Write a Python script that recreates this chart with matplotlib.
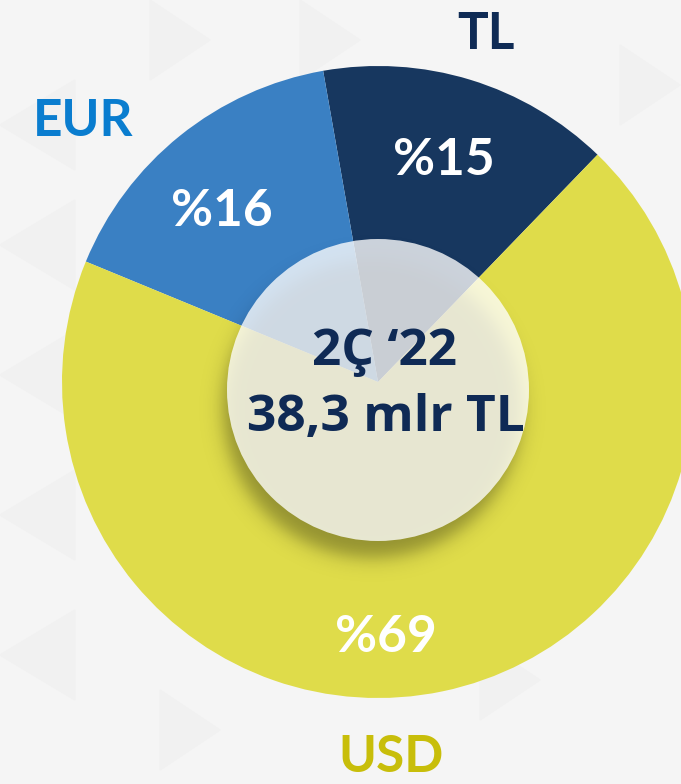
import numpy as np
from matplotlib import pyplot as plt
from matplotlib.patches import Circle, Polygon

# data
labels = ['TL', 'EUR', 'USD']
shares = [15, 16, 69]
slice_colors = ['#17375f', '#3a80c3', '#dfdc4a']
label_colors = ['#0f2b55', '#0a7dcf', '#c8be0a']
center_lines = ['2Ç \u201822', '38,3 mlr TL']

W, H = 681, 784
fig = plt.figure(figsize=(W / 100, H / 100), dpi=100, facecolor='#f5f5f5')
ax = fig.add_axes([0, 0, 1, 1])
ax.set_xlim(0, W)
ax.set_ylim(0, H)
ax.set_aspect('equal')
ax.axis('off')

# faint background triangles
tri_col = '#f1f1f1'
for y0 in [80, 200, 330, 470, 610]:
    ax.add_patch(Polygon([[0, H - y0 - 45], [75, H - y0], [75, H - y0 - 90]], closed=True,
                         color=tri_col, zorder=0))
for (x0, y0) in [(620, 45), (150, 0), (300, 0), (160, 690), (480, 640)]:
    ax.add_patch(Polygon([[x0, H - y0], [x0, H - y0 - 80], [x0 + 60, H - y0 - 40]], closed=True,
                         color=tri_col, zorder=0))

# pie
cx, cy, R = 378, H - 382, 316
wedges, _ = ax.pie(shares, colors=slice_colors, startangle=46, counterclock=True,
                   center=(cx, cy), radius=R, frame=True,
                   wedgeprops=dict(linewidth=0))
for w in wedges:
    w.set_zorder(1)
ax.set_xlim(0, W)
ax.set_ylim(0, H)
ax.axis('off')

# shadow under the inner circle
ix, iy, ir = 378, H - 390, 151
yy, xx = np.mgrid[0:H, 0:W]
d = np.hypot(xx - (ix - 6), (H - yy) - (iy - 18))
alpha = 0.34 * 0.5 * (1 - np.tanh((d - ir + 2) / 11.0))
shadow = np.zeros((H, W, 4))
shadow[..., 3] = alpha
ax.imshow(shadow, extent=[0, W, 0, H], origin='upper', zorder=2, interpolation='bilinear')

ax.add_patch(Circle((ix, iy), ir, facecolor='white', alpha=0.78, edgecolor='none', zorder=3))

ax.text(385, H - 352, center_lines[0], ha='center', va='center', fontsize=37,
        fontfamily='Open Sans', fontweight='bold', color='#0f2a55', zorder=4)
ax.text(386, H - 418, center_lines[1], ha='center', va='center', fontsize=37,
        fontfamily='Open Sans', fontweight='bold', color='#0f2a55', zorder=4)

# percentage labels inside slices
pct_pos = [(444, 160), (222, 211), (386, 637)]
for s, (px, py) in zip(shares, pct_pos):
    ax.text(px, H - py, '%' + str(s), ha='center', va='center', fontsize=37,
            fontfamily='Lato', fontweight='bold', color='white', zorder=4)

# outer labels
out_pos = [(486, 34), (83, 121), (391, 757)]
for lab, c, (px, py) in zip(labels, label_colors, out_pos):
    ax.text(px, H - py, lab, ha='center', va='center', fontsize=37,
            fontfamily='Lato', fontweight='bold', color=c, zorder=4)

plt.savefig('out.png', dpi=100, facecolor=fig.get_facecolor())
